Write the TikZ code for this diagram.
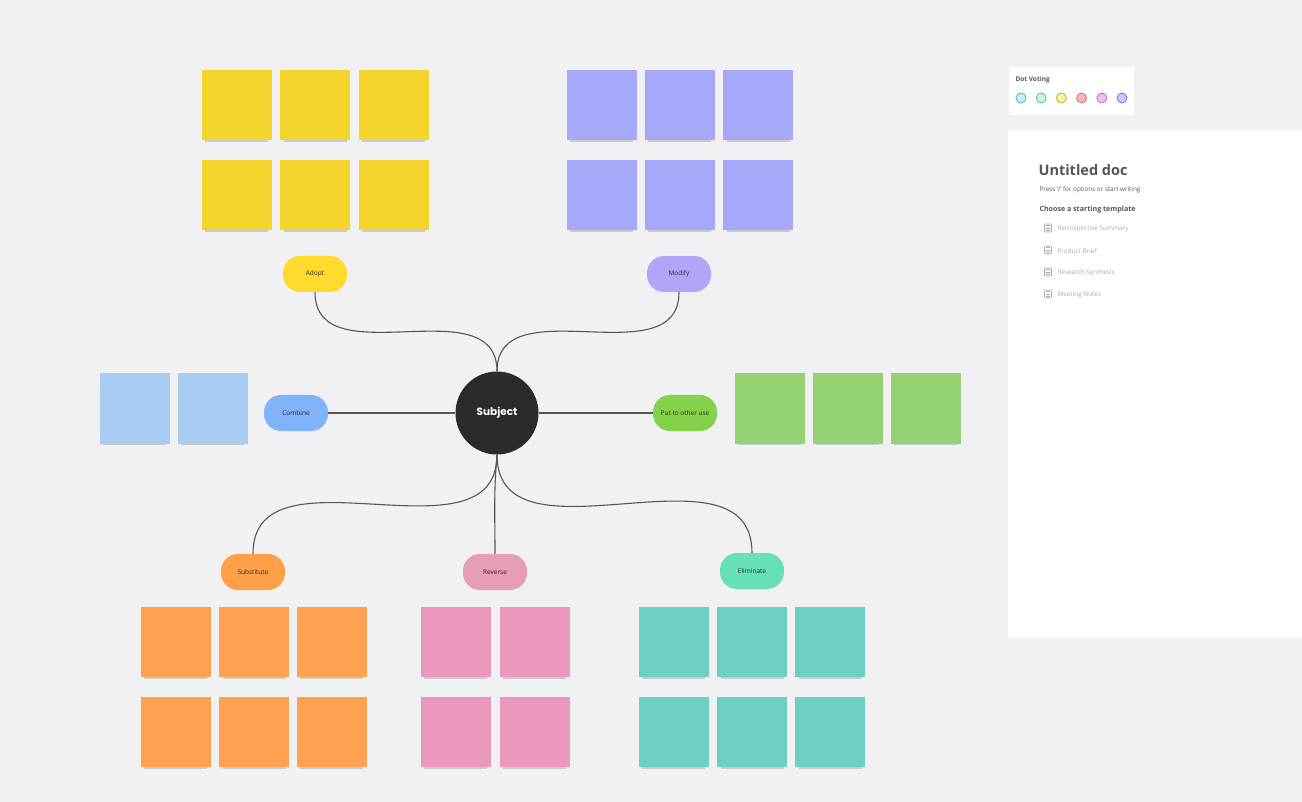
\documentclass[tikz,border=0pt]{standalone}
\usepackage{fontspec}
\setmainfont{Open Sans}
\newfontfamily\subjfont{Poppins}
\usetikzlibrary{positioning,shadows}
\definecolor{Canvas}{HTML}{F1F1F3}
\definecolor{Ink}{HTML}{2A2B2D}
\definecolor{Wire}{HTML}{55565A}
\definecolor{DocGray}{HTML}{55565B}
\definecolor{SoftGray}{HTML}{A9AAAE}
\definecolor{StYellow}{HTML}{F5D42E}
\definecolor{StPurple}{HTML}{A6A9FA}
\definecolor{StBlue}{HTML}{AACBF2}
\definecolor{StGreen}{HTML}{94D274}
\definecolor{StOrange}{HTML}{FFA24F}
\definecolor{StPink}{HTML}{EA98BC}
\definecolor{StTeal}{HTML}{6ECFC3}
\definecolor{PlYellow}{HTML}{FFDB2C}
\definecolor{PlPurple}{HTML}{B2A5F8}
\definecolor{PlBlue}{HTML}{80B3FA}
\definecolor{PlGreen}{HTML}{84D24A}
\definecolor{PlOrange}{HTML}{FFA048}
\definecolor{PlPink}{HTML}{E79CB8}
\definecolor{PlTeal}{HTML}{67DFB9}
\definecolor{DotA}{HTML}{C6F1FA}
\definecolor{DotB}{HTML}{C8F4DD}
\definecolor{DotC}{HTML}{FFF59E}
\definecolor{DotD}{HTML}{FFB6BA}
\definecolor{DotE}{HTML}{F4BAF4}
\definecolor{DotF}{HTML}{CBC7FF}

\tikzset{
  sticky/.style={minimum width=70pt, minimum height=70pt, inner sep=0pt,
    drop shadow={shadow xshift=0pt, shadow yshift=-6pt, shadow scale=.9, opacity=.16, fill=black}},
  pill/.style={rounded corners=17pt, minimum width=64pt, minimum height=36pt,
    inner sep=1pt, text=Ink, font=\fontsize{6.5}{7}\selectfont},
  wire/.style={draw=Wire, line width=1.1pt},
  votedot/.style={circle, minimum size=10pt, inner sep=0pt, line width=.7pt},
  tmpl/.style={anchor=west, text=SoftGray, font=\fontsize{6.4}{7}\selectfont},
}

\begin{document}
\begin{tikzpicture}[x=1pt, y=-1pt]
\fill[Canvas] (0,0) rectangle (1302,802);
\useasboundingbox (0,0) rectangle (1302,802);

% sticky notes
\foreach \x [count=\i] in {236.5,315,393.5} {
  \node[sticky, fill=StYellow] (yelA\i) at (\x,105) {};
  \node[sticky, fill=StYellow] (yelB\i) at (\x,195) {};
}
\foreach \x [count=\i] in {601.5,679.5,758} {
  \node[sticky, fill=StPurple] (purA\i) at (\x,105) {};
  \node[sticky, fill=StPurple] (purB\i) at (\x,195) {};
}
\foreach \x [count=\i] in {134.5,212.5}
  \node[sticky, fill=StBlue] (blu\i) at (\x,408.5) {};
\foreach \x [count=\i] in {769.5,847.5,925.5}
  \node[sticky, fill=StGreen] (grn\i) at (\x,408.5) {};
\foreach \x [count=\i] in {175.5,254,331.5} {
  \node[sticky, fill=StOrange] (orgA\i) at (\x,642) {};
  \node[sticky, fill=StOrange] (orgB\i) at (\x,732) {};
}
\foreach \x [count=\i] in {455.5,534.5} {
  \node[sticky, fill=StPink] (pnkA\i) at (\x,642) {};
  \node[sticky, fill=StPink] (pnkB\i) at (\x,732) {};
}
\foreach \x [count=\i] in {673.5,752,830} {
  \node[sticky, fill=StTeal] (tealA\i) at (\x,642) {};
  \node[sticky, fill=StTeal] (tealB\i) at (\x,732) {};
}

% mind map
\node[circle, fill=Ink, minimum size=83pt, text=white,
  font=\subjfont\bfseries\fontsize{10.5}{12}\selectfont] (subject) at (497,413) {Subject};
\node[pill, fill=PlYellow] (adopt) at (315,274) {Adopt};
\node[pill, fill=PlPurple] (modify) at (679,274) {Modify};
\node[pill, fill=PlBlue] (combine) at (296,413) {Combine};
\node[pill, fill=PlGreen] (put) at (685,413) {Put to other use};
\node[pill, fill=PlOrange] (subst) at (253,572) {Substitute};
\node[pill, fill=PlPink] (reverse) at (495,572) {Reverse};
\node[pill, fill=PlTeal] (elim) at (752,571) {Eliminate};

\draw[wire] (subject.north) to[out=90, in=-90, looseness=1.1] (adopt.south);
\draw[wire] (subject.north) to[out=90, in=-90, looseness=1.1] (modify.south);
\draw[wire] (subject.west) -- (combine.east);
\draw[wire] (subject.east) -- (put.west);
\draw[wire] (subject.south) to[out=-90, in=90, looseness=1.1] (subst.north);
\draw[wire] (subject.south) to[out=-95, in=90] (reverse.north);
\draw[wire] (subject.south) to[out=-90, in=90, looseness=1.1] (elim.north);

% dot voting panel
\fill[white] (1009,67) rectangle (1134,115);
\node[anchor=west, text=DocGray, font=\bfseries\fontsize{6.5}{7}\selectfont] (vote) at (1012,79.5) {Dot Voting};
\foreach \c/\d [count=\i] in {DotA/3FA9C9, DotB/43BD85, DotC/B5A51E, DotD/D9626B, DotE/B961C2, DotF/6E66D8} {
  \definecolor{rim}{HTML}{\d}
  \node[votedot, fill=\c, draw=rim] (dot\i) at ({1021+20.2*(\i-1)},98) {};
}

% doc panel
\fill[white] (1008,130) rectangle (1302,638);
\node[anchor=west, text=DocGray, font=\bfseries\fontsize{14.5}{16}\selectfont] (title) at (1035,170.5) {Untitled doc};
\node[anchor=west, text=DocGray, font=\fontsize{6.3}{7}\selectfont] (hint) at (1036,189.5) {Press `/' for options or start writing};
\node[anchor=west, text=DocGray, font=\bfseries\fontsize{7.1}{8}\selectfont] (choose) at (1036,209.5) {Choose a starting template};
\foreach \t [count=\i] in {Retrospective Summary, Product Brief, Research Synthesis, Meeting Notes} {
  \node[draw=SoftGray, line width=.6pt, rounded corners=.8pt, minimum width=7pt, minimum height=8pt, inner sep=0pt]
    (icon\i) at (1048,{228+22*(\i-1)}) {};
  \draw[SoftGray, line width=.5pt] ([xshift=1.8pt,yshift=2pt]icon\i.south west) -- ([xshift=-1.8pt,yshift=2pt]icon\i.south east)
    ([xshift=1.8pt]icon\i.west) -- ([xshift=-1.8pt]icon\i.east)
    ([xshift=1.8pt,yshift=-2pt]icon\i.north west) -- ([xshift=-1.8pt,yshift=-2pt]icon\i.north east);
  \node[tmpl] (tmpl\i) at (1054,{229+22*(\i-1)}) {\t};
}
\end{tikzpicture}
\end{document}
